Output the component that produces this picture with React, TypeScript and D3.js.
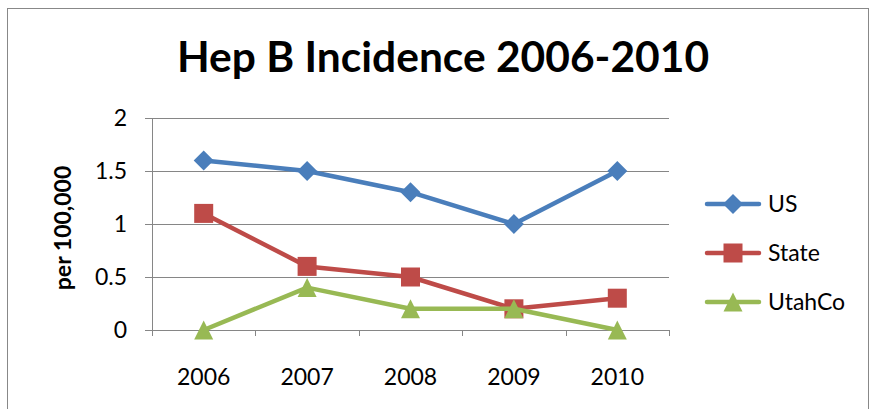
import React from "react";
import * as d3 from "d3";

const years = ["2006", "2007", "2008", "2009", "2010"];
const usValues = [1.6, 1.5, 1.3, 1.0, 1.5];
const stateValues = [1.1, 0.6, 0.5, 0.2, 0.3];
const utahCoValues = [0, 0.4, 0.2, 0.2, 0];
const yTicks = [0, 0.5, 1, 1.5, 2];
const seriesNames = ["US", "State", "UtahCo"];
const seriesColors = ["#4a7ebb", "#be4b48", "#98b954"];
const seriesMarkers = ["diamond", "square", "triangle"];

const W = 877;
const H = 409;
const FONT = "Lato, 'Open Sans', sans-serif";

function Marker({ kind, x, y, color }: { kind: string; x: number; y: number; color: string }) {
  if (kind === "diamond") {
    const r = 10;
    return <path d={`M${x},${y - r}L${x + r},${y}L${x},${y + r}L${x - r},${y}Z`} fill={color} />;
  }
  if (kind === "square") {
    const s = 19;
    return <rect x={x - s / 2} y={y - s / 2} width={s} height={s} fill={color} />;
  }
  const w = 19, h = 19;
  return <path d={`M${x},${y - h / 2}L${x + w / 2},${y + h / 2}L${x - w / 2},${y + h / 2}Z`} fill={color} />;
}

export default function App() {
  const x = d3.scaleBand().domain(years).range([152, 669]).padding(0);
  const y = d3.scaleLinear().domain([0, 2]).range([330, 118]);
  const cx = (d: string) => (x(d) as number) + x.bandwidth() / 2;
  const data = [usValues, stateValues, utahCoValues];
  const line = d3.line<number>().x((_, i) => cx(years[i])).y((v) => y(v));
  const legendY = [204, 253, 302];

  return (
    <svg width={W} height={H} style={{ position: "absolute", left: 0, top: 0 }}>
      <rect x={0} y={0} width={W} height={H} fill="#fff" />
      <rect x={7.5} y={8.5} width={861} height={410} fill="#fff" stroke="#888" strokeWidth={1} />
      <text x={443} y={72} textAnchor="middle" fontFamily={FONT} fontWeight="bold" fontSize={42.5} fill="#000">
        Hep B Incidence 2006-2010
      </text>
      {yTicks.map((t) => (
        <g key={t}>
          <line x1={145} x2={669} y1={Math.round(y(t)) + 0.5} y2={Math.round(y(t)) + 0.5} stroke="#868686" strokeWidth={1} />
          <text x={127} y={y(t) + 8} textAnchor="end" fontFamily={FONT} fontSize={23} fill="#000">
            {t}
          </text>
        </g>
      ))}
      <line x1={152.5} x2={152.5} y1={118} y2={336} stroke="#868686" strokeWidth={1} />
      {years.map((yr) => (
        <line key={yr} x1={Math.round((x(yr) as number) + x.bandwidth()) + 0.5} x2={Math.round((x(yr) as number) + x.bandwidth()) + 0.5} y1={330} y2={336} stroke="#868686" strokeWidth={1} />
      ))}
      {years.map((yr) => (
        <text key={yr} x={cx(yr)} y={385} textAnchor="middle" fontFamily={FONT} fontSize={23} fill="#000">
          {yr}
        </text>
      ))}
      <text transform="translate(71,228) rotate(-90)" textAnchor="middle" fontFamily={FONT} fontWeight="bold" fontSize={23} fill="#000">
        per 100,000
      </text>
      {data.map((vals, si) => (
        <g key={si}>
          <path d={line(vals) || ""} fill="none" stroke={seriesColors[si]} strokeWidth={4.5} strokeLinejoin="round" />
          {vals.map((v, i) => (
            <Marker key={i} kind={seriesMarkers[si]} x={cx(years[i])} y={y(v)} color={seriesColors[si]} />
          ))}
        </g>
      ))}
      {seriesNames.map((n, si) => (
        <g key={n}>
          <line x1={707} x2={759} y1={legendY[si]} y2={legendY[si]} stroke={seriesColors[si]} strokeWidth={4.5} strokeLinecap="round" />
          <Marker kind={seriesMarkers[si]} x={733} y={legendY[si]} color={seriesColors[si]} />
          <text x={768} y={legendY[si] + 8} fontFamily={FONT} fontSize={23} fill="#000">
            {n}
          </text>
        </g>
      ))}
    </svg>
  );
}
